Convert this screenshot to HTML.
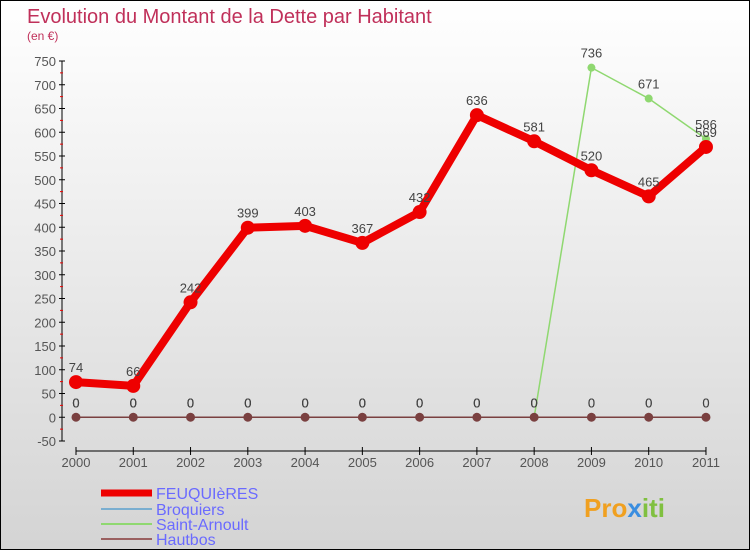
<!DOCTYPE html>
<html><head><meta charset="utf-8"><style>
body{margin:0}
#wrap{position:relative;width:748px;height:548px;border:1px solid #000;background:linear-gradient(#fff,#d4d4d4);font-family:"Liberation Sans",sans-serif;overflow:hidden}
</style></head><body>
<div id="wrap">
<svg id="svg" width="748" height="548" style="position:absolute;left:0;top:0">
<text x="26" y="22" font-size="20" fill="#c0305a">Evolution du Montant de la Dette par Habitant</text>
<text x="26" y="39" font-size="12" fill="#c0305a">(en €)</text>
<g id="axes"></g><g id="series"></g>
<g id="legend">
<line x1="100" y1="492" x2="151" y2="492" stroke="#e00" stroke-width="7"/>
<text x="155" y="498" font-size="16" fill="#6a6aff">FEUQUIèRES</text>
<line x1="100" y1="508" x2="151" y2="508" stroke="#7aaed0" stroke-width="2"/>
<text x="155" y="514" font-size="16" fill="#6a6aff">Broquiers</text>
<line x1="100" y1="523" x2="151" y2="523" stroke="#8fd870" stroke-width="2"/>
<text x="155" y="529" font-size="16" fill="#6a6aff">Saint-Arnoult</text>
<line x1="100" y1="538" x2="151" y2="538" stroke="#9a6060" stroke-width="2"/>
<text x="155" y="544" font-size="16" fill="#6a6aff">Hautbos</text>
</g>
<text x="583" y="516" font-size="26" font-weight="bold" fill="#f0a020">Pro<tspan fill="#3a8ee0">x</tspan><tspan fill="#80c040">iti</tspan></text>
</svg>
</div>
<script>
const years=["2000","2001","2002","2003","2004","2005","2006","2007","2008","2009","2010","2011"];
const yTicks=[-50,0,50,100,150,200,250,300,350,400,450,500,550,600,650,700,750];
const feuquieres=[74,66,242,399,403,367,432,636,581,520,465,569];
const broquiers=[0,0,0,0,0,0,0,0,0,0,0,0];
const saintArnoult=[0,0,0,0,0,0,0,0,0,736,671,586];
const hautbos=[0,0,0,0,0,0,0,0,0,0,0,0];
const NS="http://www.w3.org/2000/svg";
const X=i=>75+i*57.27;
const Y=v=>416.25-v*0.475;
function mk(t,a,p){const e=document.createElementNS(NS,t);for(const k in a)e.setAttribute(k,a[k]);p.appendChild(e);return e;}
const ax=document.getElementById('axes');
let yl=mk('line',{x1:61,y1:Y(750),x2:61,y2:Y(-50),stroke:'#000'},ax);


yTicks.forEach(v=>{
 mk('line',{x1:58,y1:Y(v),x2:64,y2:Y(v),stroke:'#000'},ax);
 if(v<750) mk('line',{x1:59,y1:Y(v+25),x2:62,y2:Y(v+25),stroke:'#e00'},ax);
 const t=mk('text',{x:55,y:Y(v)+5,'font-size':13,fill:'#555','text-anchor':'end'},ax);t.textContent=v;
 
 
});
let xl=mk('line',{x1:X(0),y1:450,x2:X(11),y2:450,stroke:'#000'},ax);


years.forEach((y,i)=>{
 mk('line',{x1:X(i),y1:446,x2:X(i),y2:454,stroke:'#000'},ax);
 const t=mk('text',{x:X(i),y:466,'font-size':13,fill:'#555','text-anchor':'middle'},ax);t.textContent=y;
 
 
});
const sg=document.getElementById('series');
function series(data,color,w,r,name,labels){
 const g=mk('g',{},sg);
 
 
 mk('polyline',{points:data.map((v,i)=>X(i)+','+Y(v)).join(' '),fill:'none',stroke:color,'stroke-width':w,'stroke-linejoin':'round'},g);
 data.forEach((v,i)=>{
  const c=mk('circle',{cx:X(i),cy:Y(v),r:r,fill:color},g);
  
  
  if(labels){const t=mk('text',{x:X(i),y:Y(v)-10,'font-size':13,fill:'#444','text-anchor':'middle'},g);t.textContent=v;
   
   }
 });
}
series(saintArnoult,'#8fd870',1.5,4,'saint-arnoult',true);
series(broquiers,'#7aaed0',1.5,4,'broquiers',true);
series(hautbos,'#7a4040',1.5,4.5,'hautbos',true);
series(feuquieres,'#ee0000',8,7,'feuquieres',true);
</script>
</body></html>
